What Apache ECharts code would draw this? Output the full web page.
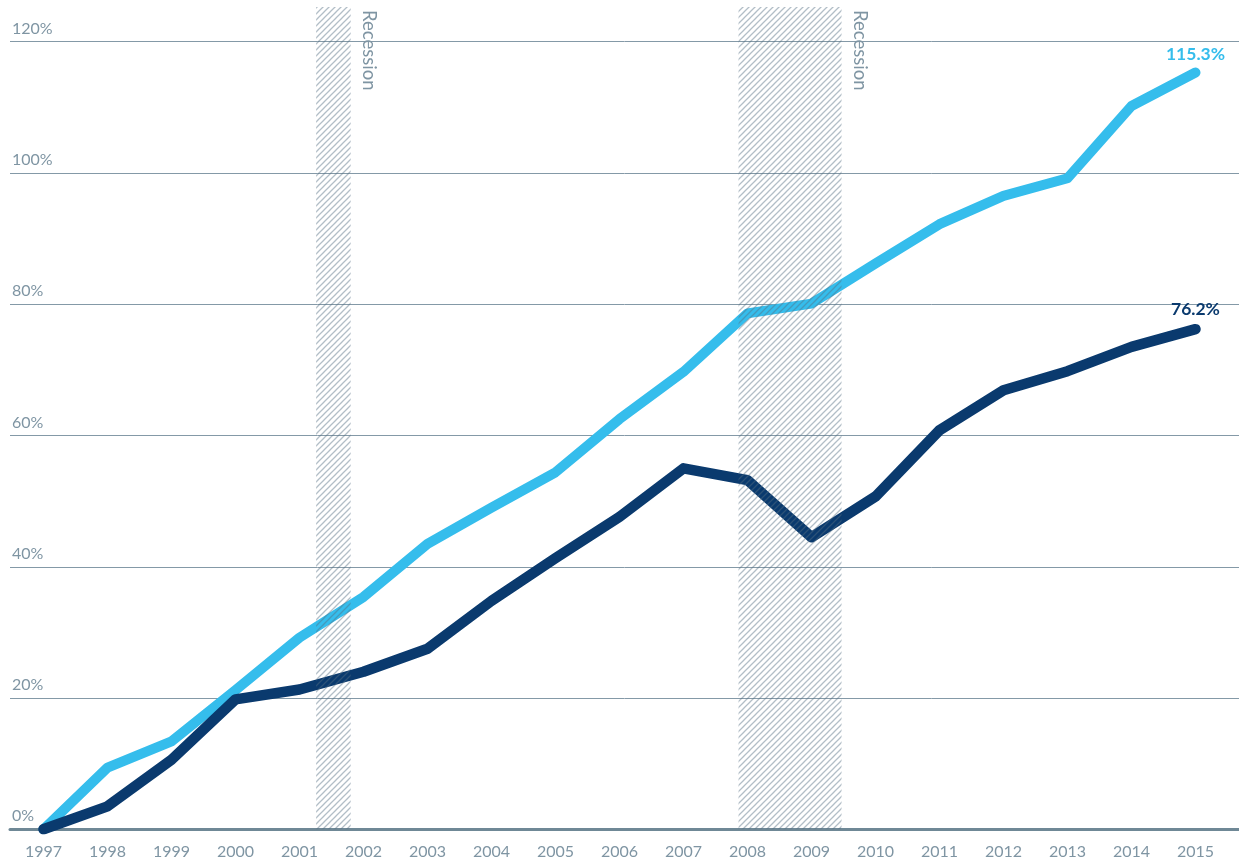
<!DOCTYPE html>
<html>
<head>
<meta charset="utf-8">
<script src="https://cdn.jsdelivr.net/npm/echarts@6/dist/echarts.min.js"></script>
<style>
  html, body { margin: 0; padding: 0; background: #ffffff; }
  #chart { width: 1239px; height: 863px; }
</style>
</head>
<body>
<div id="chart"></div>
<script>
// ---- data ----
const years = [1997, 1998, 1999, 2000, 2001, 2002, 2003, 2004, 2005, 2006, 2007, 2008, 2009, 2010, 2011, 2012, 2013, 2014, 2015];
const lightSeries = [0, 9.4, 13.4, 21.2, 29.2, 35.4, 43.5, 49.0, 54.4, 62.5, 69.7, 78.6, 80.1, 86.2, 92.2, 96.5, 99.2, 110.2, 115.3];
const darkSeries  = [0, 3.5, 10.6, 19.8, 21.3, 24.0, 27.5, 34.8, 41.3, 47.6, 55.0, 53.2, 44.5, 50.7, 60.8, 66.9, 69.8, 73.5, 76.2];
const lightEndLabel = '115.3%';
const darkEndLabel = '76.2%';
const recessionStart = [2001.26, 2007.86];
const recessionEnd   = [2001.80, 2009.47];
const recessionLabel = 'Recession';

// ---- styling ----
const FONT = 'Lato';
const LIGHT = '#35bdec';
const DARK = '#0a3a6e';
const AXIS_TEXT = '#7f95a3';
const GRID_LINE = '#8499a7';

// hatch pattern (semi-transparent diagonal stripes)
const pc = document.createElement('canvas');
pc.width = 6; pc.height = 6;
const ctx = pc.getContext('2d');
ctx.strokeStyle = 'rgba(85,110,130,0.45)';
ctx.lineWidth = 1.3;
ctx.beginPath();
ctx.moveTo(-1, 7); ctx.lineTo(7, -1);
ctx.moveTo(-1, 1); ctx.lineTo(1, -1);
ctx.moveTo(5, 7); ctx.lineTo(7, 5);
ctx.stroke();
const hatch = { image: pc, repeat: 'repeat' };

const xMin = 1996.4766, xMax = 2015.68;

function toPairs(vals, endLabel, color, dist) {
  return vals.map((v, i) => {
    if (i === vals.length - 1) {
      return {
        value: [years[i], v],
        label: {
          show: true, position: 'top', distance: dist,
          formatter: endLabel, color: color, fontFamily: FONT,
          fontWeight: 'bold', fontSize: 17.5
        }
      };
    }
    return [years[i], v];
  });
}

const chart = echarts.init(document.getElementById('chart'), null, { renderer: 'canvas' });
chart.setOption({
  animation: false,
  backgroundColor: '#ffffff',
  grid: [
    { left: 10, right: 0, top: 41.7, bottom: 33.7 },
    { left: 10, right: 0, top: 7, bottom: 33.7 }
  ],
  xAxis: [
    {
      type: 'value', gridIndex: 0, min: xMin, max: xMax,
      axisLine: { show: true, lineStyle: { color: '#6f8896', width: 3 } },
      axisTick: { show: false },
      splitLine: { show: false },
      axisLabel: {
        customValues: years,
        formatter: v => String(v),
        color: AXIS_TEXT, fontFamily: FONT, fontSize: 16, margin: 15
      }
    },
    { type: 'value', gridIndex: 1, min: xMin, max: xMax, show: false }
  ],
  yAxis: [
    {
      type: 'value', gridIndex: 0, min: 0, max: 120, interval: 20,
      axisLine: { show: false }, axisTick: { show: false },
      splitLine: { show: true, lineStyle: { color: GRID_LINE, width: 1 } },
      axisLabel: {
        inside: true, margin: 2, formatter: '{value}%',
        color: AXIS_TEXT, fontFamily: FONT, fontSize: 16,
        verticalAlign: 'bottom', padding: [0, 0, 5, 0]
      }
    },
    { type: 'value', gridIndex: 1, min: 0, max: 1, show: false }
  ],
  series: [
    {
      type: 'line', xAxisIndex: 0, yAxisIndex: 0, z: 2,
      data: toPairs(lightSeries, lightEndLabel, LIGHT, 9),
      symbol: 'circle', symbolSize: 0, showSymbol: true,
      lineStyle: { color: LIGHT, width: 10, cap: 'round', join: 'round' },
      itemStyle: { color: LIGHT }
    },
    {
      type: 'line', xAxisIndex: 0, yAxisIndex: 0, z: 3,
      data: toPairs(darkSeries, darkEndLabel, DARK, 11),
      symbol: 'circle', symbolSize: 0, showSymbol: true,
      lineStyle: { color: DARK, width: 10.5, cap: 'round', join: 'round' },
      itemStyle: { color: DARK }
    },
    {
      type: 'custom', xAxisIndex: 1, yAxisIndex: 1, z: 5,
      data: recessionStart.map((s, i) => [s, recessionEnd[i]]),
      renderItem: function (params, api) {
        const p0 = api.coord([api.value(0), 0]);
        const p1 = api.coord([api.value(1), 1]);
        return {
          type: 'group',
          children: [
            {
              type: 'rect',
              shape: { x: p0[0], y: p1[1], width: p1[0] - p0[0], height: p0[1] - p1[1] },
              style: { fill: hatch }
            },
            {
              type: 'text',
              x: p1[0] + 9, y: p1[1] + 3,
              rotation: -Math.PI / 2,
              style: {
                text: recessionLabel, fill: AXIS_TEXT,
                font: '18.5px ' + FONT, align: 'left', verticalAlign: 'bottom'
              }
            }
          ]
        };
      }
    }
  ]
});
</script>
</body>
</html>
